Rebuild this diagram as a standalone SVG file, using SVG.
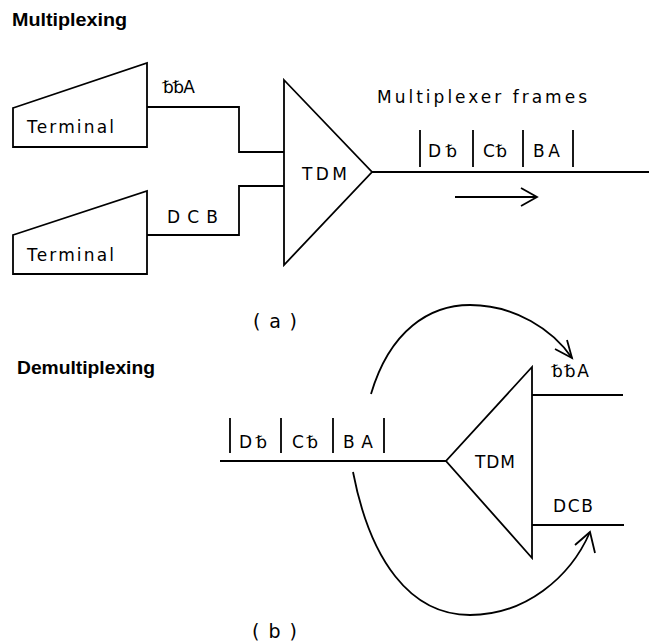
<svg xmlns="http://www.w3.org/2000/svg" width="649" height="642" viewBox="0 0 649 642">
<defs>
<style>
.ln{fill:none;stroke:#000;stroke-width:1.8;stroke-linejoin:miter}
.sh{fill:#fff;stroke:#000;stroke-width:1.8}
.lb{font-family:"DejaVu Sans","Liberation Sans",sans-serif;font-size:17px;fill:#000}
.pr{font-family:"DejaVu Sans","Liberation Sans",sans-serif;font-size:19px;fill:#000}
.tt{font-family:"Liberation Sans",Arial,sans-serif;font-size:19px;font-weight:bold;fill:#000}
</style>
</defs>
<rect width="649" height="642" fill="#fff"/>
<text class="tt" x="12" y="26" textLength="115" lengthAdjust="spacingAndGlyphs">Multiplexing</text>
<text class="tt" x="17" y="374" textLength="138" lengthAdjust="spacingAndGlyphs">Demultiplexing</text>

<g id="connectors">
<polyline class="ln" points="147,107 239,107 239,152 284,152"/>
<polyline class="ln" points="147,235 239,235 239,186 284,186"/>
<line class="ln" x1="372" y1="172" x2="649" y2="172"/>
<g id="frames-a" class="ln">
<line x1="420" y1="130" x2="420" y2="167"/><line x1="473" y1="130" x2="473" y2="167"/>
<line x1="523" y1="130" x2="523" y2="167"/><line x1="573" y1="130" x2="573" y2="167"/>
</g>
<line class="ln" x1="455" y1="197" x2="536" y2="197"/>
<polyline class="ln" points="521,188 537,197 521,206"/>
<line class="ln" x1="220" y1="461" x2="446" y2="461"/>
<line class="ln" x1="532" y1="395" x2="623" y2="395"/>
<line class="ln" x1="532" y1="525" x2="624" y2="525"/>
<g id="frames-b" class="ln">
<line x1="230" y1="418" x2="230" y2="453"/><line x1="281" y1="418" x2="281" y2="453"/>
<line x1="333" y1="418" x2="333" y2="453"/><line x1="384" y1="418" x2="384" y2="453"/>
</g>
<path class="ln" d="M371,394 C390,330 430,305 470,305 C515,305 553,330 572,358"/>
<polyline class="ln" points="555,349 572,358 567,340"/>
<path class="ln" d="M353,472 C370,560 410,615 470,615 C525,615 570,578 590,532"/>
<polyline class="ln" points="575,545 590,532 595,553"/>
</g>

<g id="terminal1">
<polygon class="sh" points="13,108 147,63 147,147 13,147"/>
<text class="lb" x="27" y="133" textLength="87" lengthAdjust="spacing">Terminal</text>
</g>
<g id="terminal2">
<polygon class="sh" points="13,235 147,191 147,274 13,274"/>
<text class="lb" x="27" y="261" textLength="87" lengthAdjust="spacing">Terminal</text>
</g>
<g id="tdm-a">
<polygon class="sh" points="284,80 372,172 284,265"/>
<text class="lb" x="302" y="180" textLength="45" lengthAdjust="spacing">TDM</text>
</g>
<g id="tdm-b">
<polygon class="sh" points="532,367 446,461 532,558"/>
<text class="lb" x="475" y="468" textLength="40" lengthAdjust="spacing">TDM</text>
</g>

<g id="labels">
<text class="lb" x="163" y="93" textLength="32" lengthAdjust="spacing">␢␢A</text>
<text class="lb" x="167" y="223" textLength="51" lengthAdjust="spacing">DCB</text>
<text class="lb" x="377" y="103" textLength="210" lengthAdjust="spacing">Multiplexer frames</text>
<text class="lb" x="428" y="157" textLength="29" lengthAdjust="spacing">D␢</text>
<text class="lb" x="483" y="157" textLength="24" lengthAdjust="spacing">C␢</text>
<text class="lb" x="533" y="157" textLength="27" lengthAdjust="spacing">BA</text>
<text class="pr" x="253" y="328" textLength="44" lengthAdjust="spacing">( a )</text>
<text class="lb" x="552" y="377" textLength="37" lengthAdjust="spacing">␢␢A</text>
<text class="lb" x="553" y="512" textLength="40" lengthAdjust="spacing">DCB</text>
<text class="lb" x="239" y="448" textLength="28" lengthAdjust="spacing">D␢</text>
<text class="lb" x="292" y="448" textLength="26" lengthAdjust="spacing">C␢</text>
<text class="lb" x="343" y="448" textLength="30" lengthAdjust="spacing">BA</text>
<text class="pr" x="252" y="638" textLength="45" lengthAdjust="spacing">( b )</text>
</g>
</svg>
